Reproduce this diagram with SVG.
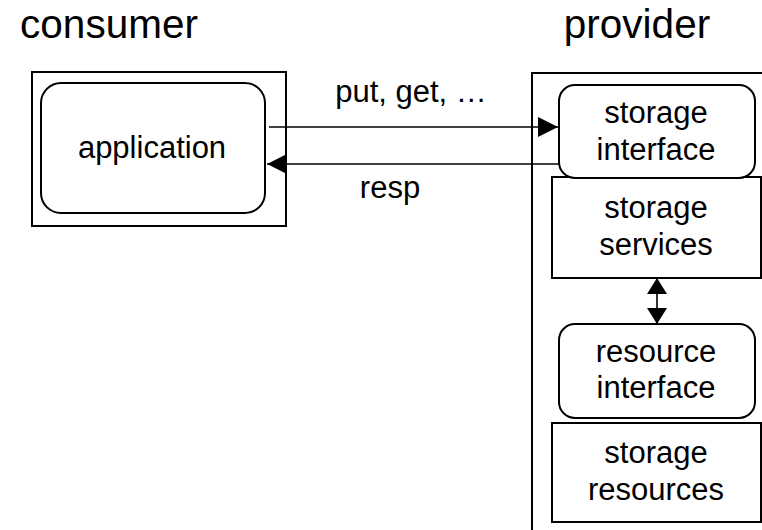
<svg xmlns="http://www.w3.org/2000/svg" width="762" height="530" viewBox="0 0 762 530">
  <style>
    .frame { fill: #ffffff; stroke: #000000; stroke-width: 2; }
    .box { fill: #ffffff; stroke: #000000; stroke-width: 2; }
    .edge { fill: none; stroke: #000000; stroke-width: 1.6; }
    text { font-family: "Liberation Sans", Arial, sans-serif; fill: #000000; text-anchor: middle; }
    .head { font-size: 40.5px; }
    .lbl { font-size: 31px; }
  </style>
  <defs>
    <marker id="tri" viewBox="0 0 20 20" markerWidth="20" markerHeight="20" refX="20" refY="10" orient="auto" markerUnits="userSpaceOnUse">
      <path d="M0,0 L20,10 L0,20 Z" fill="#000000"/>
    </marker>
    <marker id="triStart" viewBox="0 0 20 20" markerWidth="20" markerHeight="20" refX="0" refY="10" orient="auto" markerUnits="userSpaceOnUse">
      <path d="M20,0 L0,10 L20,20 Z" fill="#000000"/>
    </marker>
    <marker id="tip" viewBox="0 0 16 20" markerWidth="16" markerHeight="20" refX="16" refY="10" orient="auto" markerUnits="userSpaceOnUse">
      <path d="M0,0 L16,10 L0,20 Z" fill="#000000"/>
    </marker>
    <marker id="tipStart" viewBox="0 0 16 20" markerWidth="16" markerHeight="20" refX="0" refY="10" orient="auto" markerUnits="userSpaceOnUse">
      <path d="M16,0 L0,10 L16,20 Z" fill="#000000"/>
    </marker>
  </defs>

  <!-- headings -->
  <text class="head" x="109" y="38">consumer</text>
  <text class="head" x="637" y="38">provider</text>

  <!-- consumer side -->
  <g id="consumer">
    <rect class="frame" x="32" y="72" width="254" height="154"/>
  </g>
  <g id="application">
    <rect class="box" x="41" y="83" width="224" height="130" rx="20" ry="20"/>
    <text class="lbl" x="152" y="158">application</text>
  </g>

  <!-- provider side (frame runs past the canvas edge) -->
  <g id="provider">
    <rect class="frame" x="532" y="73" width="260" height="480"/>
  </g>
  <g id="storage-services">
    <rect class="box" x="552" y="177" width="209" height="101"/>
    <text class="lbl" x="656" y="218">storage</text>
    <text class="lbl" x="656" y="255">services</text>
  </g>
  <g id="storage-interface">
    <rect class="box" x="559" y="85" width="196" height="93" rx="16" ry="16"/>
    <text class="lbl" x="656" y="123">storage</text>
    <text class="lbl" x="656" y="160">interface</text>
  </g>
  <g id="resource-interface">
    <rect class="box" x="559" y="324" width="196" height="94" rx="16" ry="16"/>
    <text class="lbl" x="656" y="362">resource</text>
    <text class="lbl" x="656" y="398">interface</text>
  </g>
  <g id="storage-resources">
    <rect class="box" x="552" y="423" width="209" height="99"/>
    <text class="lbl" x="656" y="463">storage</text>
    <text class="lbl" x="656" y="500">resources</text>
  </g>

  <!-- connectors -->
  <g id="connectors">
    <line class="edge" x1="269" y1="127" x2="558" y2="127" marker-end="url(#tri)"/>
    <line class="edge" x1="559" y1="164" x2="267" y2="164" marker-end="url(#tri)"/>
    <line class="edge" x1="657" y1="278" x2="657" y2="324" marker-start="url(#tipStart)" marker-end="url(#tip)"/>
    <text class="lbl" x="411" y="102">put, get, …</text>
    <text class="lbl" x="390" y="198">resp</text>
  </g>
</svg>
